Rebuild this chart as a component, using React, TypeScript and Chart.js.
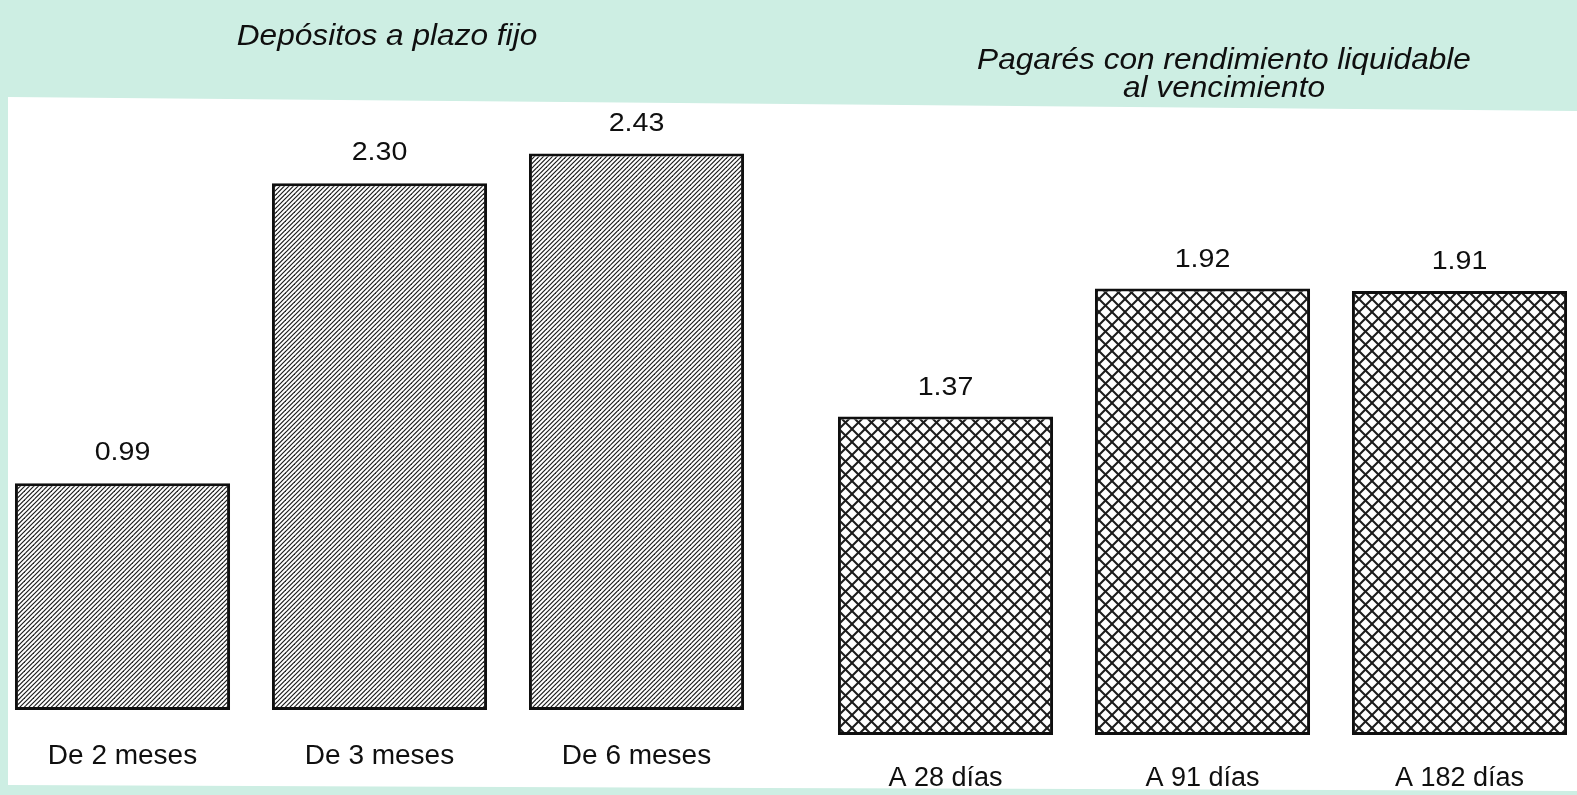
import React, { useEffect, useRef } from "react";
import { Chart, registerables } from "chart.js";

Chart.register(...registerables);

// ---- data ----
const depositCategories = ["De 2 meses", "De 3 meses", "De 6 meses"];
const depositValues = [0.99, 2.3, 2.43];
const depositTitle = ["Depósitos a plazo fijo"];

const pagareCategories = ["A 28 días", "A 91 días", "A 182 días"];
const pagareValues = [1.37, 1.92, 1.91];
const pagareTitle = ["Pagarés con rendimiento liquidable", "al vencimiento"];

const yMax = 2.7;

// ---- styling ----
const W = 1577;
const H = 795;
const GREEN = "#cdeee3";
const INK = "#0f0f0f";
const FONT = '"Liberation Sans", Arial, Helvetica, sans-serif';

function makeStripePattern(): CanvasPattern | string {
  const s = 9;
  const c = document.createElement("canvas");
  c.width = s;
  c.height = s;
  const g = c.getContext("2d");
  if (!g) return "#888";
  g.fillStyle = "#ffffff";
  g.fillRect(0, 0, s, s);
  g.strokeStyle = "#1a1a1a";
  g.lineWidth = 1.15;
  for (let k = -4; k <= 4; k++) {
    const a = k * 4.5;
    g.beginPath();
    g.moveTo(a - 2, s + 2);
    g.lineTo(a + s + 2, -2);
    g.stroke();
  }
  return g.createPattern(c, "repeat") || "#888";
}

function makeCrossPattern(): CanvasPattern | string {
  const s = 13;
  const c = document.createElement("canvas");
  c.width = s;
  c.height = s;
  const g = c.getContext("2d");
  if (!g) return "#ccc";
  g.fillStyle = "#ffffff";
  g.fillRect(0, 0, s, s);
  g.strokeStyle = "#1c1c1c";
  g.lineWidth = 2;
  for (let k = -2; k <= 2; k++) {
    const a = k * s;
    g.beginPath();
    g.moveTo(a - 2, s + 2);
    g.lineTo(a + s + 2, -2);
    g.stroke();
    g.beginPath();
    g.moveTo(a - 2, -2);
    g.lineTo(a + s + 2, s + 2);
    g.stroke();
  }
  return g.createPattern(c, "repeat") || "#ccc";
}

const valueLabelPlugin = {
  id: "valueLabels",
  afterDatasetsDraw(chart: any, _args: any, opts: any) {
    const ctx = chart.ctx as CanvasRenderingContext2D;
    const meta = chart.getDatasetMeta(0);
    const data = chart.data.datasets[0].data as number[];
    ctx.save();
    ctx.font = `${opts.size}px ${FONT}`;
    ctx.fillStyle = INK;
    ctx.textAlign = "center";
    ctx.textBaseline = "middle";
    meta.data.forEach((bar: any, i: number) => {
      ctx.save();
      ctx.translate(bar.x, bar.y - opts.offset);
      ctx.scale(opts.stretch, 1);
      ctx.fillText(Number(data[i]).toFixed(2), 0, 0);
      ctx.restore();
    });
    ctx.restore();
  },
};

const groupTitlePlugin = {
  id: "groupTitle",
  afterDraw(chart: any, _args: any, opts: any) {
    const ctx = chart.ctx as CanvasRenderingContext2D;
    ctx.save();
    ctx.font = `italic ${opts.size}px ${FONT}`;
    ctx.fillStyle = INK;
    ctx.textAlign = "center";
    ctx.textBaseline = "middle";
    (opts.lines as string[]).forEach((line, i) => {
      ctx.save();
      ctx.translate(opts.x, opts.y + i * opts.gap);
      ctx.scale(opts.stretch, 1);
      ctx.fillText(line, 0, 0);
      ctx.restore();
    });
    ctx.restore();
  },
};

type GroupProps = {
  left: number;
  width: number;
  categories: string[];
  values: number[];
  title: string[];
  kind: "stripe" | "cross";
  padding: { left: number; right: number; top: number; bottom: number };
  tickPadding: number;
  tickSize: number;
  labelOffset: number;
  titleX: number;
  titleY: number;
};

function BarGroup(p: GroupProps) {
  const ref = useRef<HTMLCanvasElement | null>(null);
  useEffect(() => {
    if (!ref.current) return;
    const fill = p.kind === "stripe" ? makeStripePattern() : makeCrossPattern();
    const chart = new Chart(ref.current, {
      type: "bar",
      data: {
        labels: p.categories,
        datasets: [
          {
            data: p.values,
            backgroundColor: fill as any,
            borderColor: INK,
            borderWidth: 3,
            borderSkipped: false,
            barPercentage: 0.837,
            categoryPercentage: 1,
          },
        ],
      },
      options: {
        responsive: false,
        animation: false,
        devicePixelRatio: 1,
        layout: { padding: p.padding },
        plugins: {
          legend: { display: false },
          tooltip: { enabled: false },
          title: { display: false },
          valueLabels: { size: 26, stretch: 1.1, offset: p.labelOffset },
          groupTitle: {
            lines: p.title,
            x: p.titleX,
            y: p.titleY,
            gap: 28,
            size: 29,
            stretch: 1.09,
          },
        } as any,
        scales: {
          x: {
            grid: { display: false, drawTicks: false },
            border: { display: false },
            ticks: {
              color: INK,
              padding: p.tickPadding,
              font: { family: FONT, size: p.tickSize },
              maxRotation: 0,
              autoSkip: false,
            },
            afterFit: (scale: any) => {
              scale.height = 60;
            },
          },
          y: {
            display: false,
            min: 0,
            max: yMax,
          },
        },
      },
      plugins: [valueLabelPlugin, groupTitlePlugin],
    });
    return () => chart.destroy();
  }, []);
  return (
    <canvas
      ref={ref}
      width={p.width}
      height={H}
      style={{ position: "absolute", left: p.left, top: 0, width: p.width, height: H }}
    />
  );
}

export default function App() {
  return (
    <div
      style={{
        position: "fixed",
        left: 0,
        top: 0,
        width: W,
        height: H,
        overflow: "hidden",
        background: GREEN,
      }}
    >
      <div
        style={{
          position: "absolute",
          left: 0,
          top: 0,
          width: W,
          height: H,
          background: "#ffffff",
          clipPath: "polygon(8px 97px, 1577px 111px, 1577px 791px, 8px 785px)",
        }}
      />
      <BarGroup
        left={-20}
        width={810}
        categories={depositCategories}
        values={depositValues}
        title={depositTitle}
        kind="stripe"
        padding={{ left: 14, right: 25, top: 91.7, bottom: 25 }}
        tickPadding={29}
        tickSize={28}
        labelOffset={30}
        titleX={407}
        titleY={37}
      />
      <BarGroup
        left={800}
        width={800}
        categories={pagareCategories}
        values={pagareValues}
        title={pagareTitle}
        kind="cross"
        padding={{ left: 17, right: 12, top: 107.25, bottom: 0 }}
        tickPadding={27}
        tickSize={27}
        labelOffset={29}
        titleX={424}
        titleY={61}
      />
    </div>
  );
}
